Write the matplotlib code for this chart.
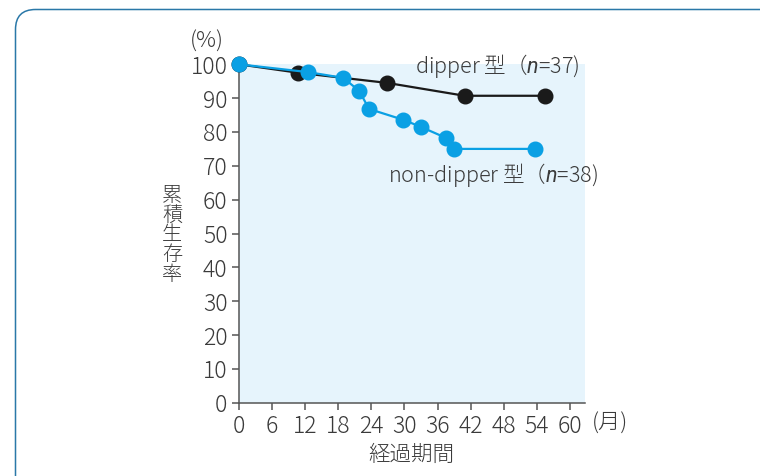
import matplotlib
matplotlib.use('Agg')
import matplotlib.pyplot as plt
from matplotlib.patches import FancyBboxPatch

plt.rcParams['font.family'] = ['Noto Sans CJK JP', 'DejaVu Sans']
plt.rcParams['font.weight'] = 'light'
plt.rcParams['mathtext.fontset'] = 'custom'
plt.rcParams['mathtext.it'] = 'Roboto:style=italic:weight=normal'
plt.rcParams['mathtext.rm'] = 'Roboto:weight=normal'

# survival curves, months vs cumulative survival (%)
dipper_month = [0, 10.8, 26.9, 40.9, 55.5]
dipper_surv = [100, 97.5, 94.5, 90.7, 90.7]

nondip_month = [0, 12.5, 18.9, 21.8, 23.6, 29.8, 33.0, 37.6, 39.0, 53.6]
nondip_surv = [100, 97.7, 96.0, 92.2, 86.8, 83.6, 81.5, 78.2, 75.0, 75.0]

xticks = [0, 6, 12, 18, 24, 30, 36, 42, 48, 54, 60]
yticks = [0, 10, 20, 30, 40, 50, 60, 70, 80, 90, 100]

W, H = 760, 476
txt = '#3a3a3a'
fig = plt.figure(figsize=(W / 100, H / 100), dpi=100)

# rounded frame around the panel
frame = FancyBboxPatch((0.155, -0.3), 7.9, 4.665 + 0.3, boxstyle='round,pad=0,rounding_size=0.2',
                       transform=fig.dpi_scale_trans, fill=False, edgecolor='#2a78a8', linewidth=1.1)
fig.patches.append(frame)

ax = fig.add_axes([238.7 / W, 1 - 402.7 / H, (585 - 238.7) / W, (402.7 - 64.3) / H])
ax.set_facecolor('#e6f4fc')
ax.set_xlim(0, 62.7)
ax.set_ylim(0, 100)

ax.plot(dipper_month, dipper_surv, color='#1a1a1a', lw=1.6, marker='o', ms=10.5, zorder=3, clip_on=False)
ax.plot(nondip_month, nondip_surv, color='#0aa0e4', lw=1.6, marker='o', ms=10.5, zorder=4, clip_on=False)

for s in ['top', 'right']:
    ax.spines[s].set_visible(False)
for s in ['left', 'bottom']:
    ax.spines[s].set_color('#555555')
    ax.spines[s].set_linewidth(1.1)

ax.set_xticks(xticks)
ax.set_yticks(yticks)
ax.tick_params(direction='out', length=5, width=1.1, color='#555555', labelsize=16.5, labelcolor=txt, pad=3)

ax.text(61.7, 99.6, 'dipper 型（$n$=37)', ha='right', va='center', fontsize=15.5, color=txt)
ax.text(27.0, 67.4, 'non-dipper 型（$n$=38)', ha='left', va='center', fontsize=15.5, color=txt)

fig.text(207 / W, 1 - 42 / H, '(%)', ha='center', va='center', fontsize=16, color=txt)
fig.text(610 / W, 1 - 424 / H, '(月)', ha='center', va='center', fontsize=16, color=txt)
fig.text(411 / W, 1 - 455 / H, '経過期間', ha='center', va='center', fontsize=15.5, color=txt)
fig.text(172 / W, 1 - 235 / H, '累\n積\n生\n存\n率', ha='center', va='center', fontsize=14.5,
         color=txt, linespacing=0.92)

fig.savefig('out.png', dpi=100)
